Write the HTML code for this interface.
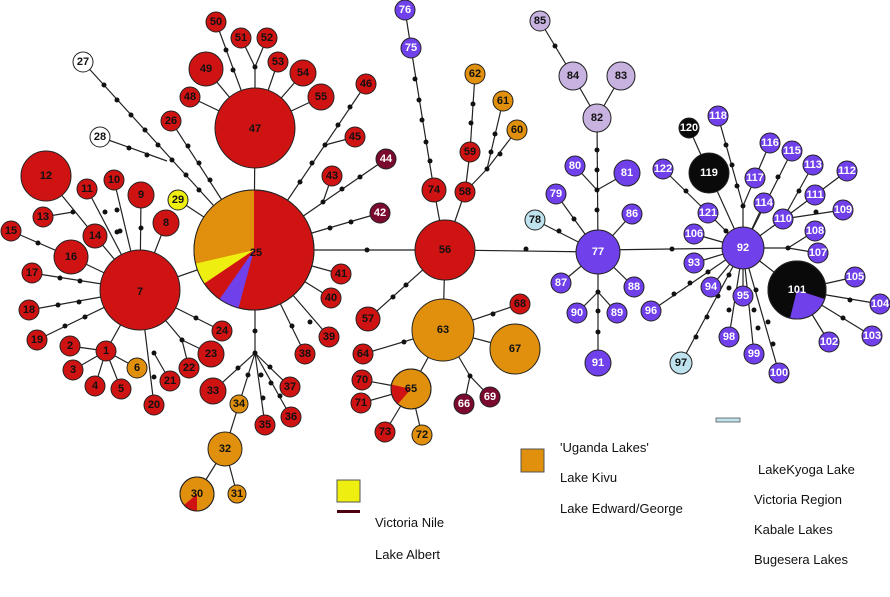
<!DOCTYPE html>
<html><head><meta charset="utf-8"><style>
html,body{margin:0;padding:0;background:#fff;}
svg{display:block}
.l line{stroke:#222;stroke-width:1.2}
.d circle{fill:#111}
.n circle{stroke:#222;stroke-width:1}
.n text{font-family:"Liberation Sans",sans-serif;font-weight:bold;font-size:11px;text-anchor:middle;dominant-baseline:central}
.R{fill:#cf1212}.O{fill:#e0900c}.P{fill:#7040ea}.L{fill:#c8b2e0}.K{fill:#0a0a0a}.W{fill:#fff}.Y{fill:#eeee10}.M{fill:#7a0a2e}.B{fill:#bfe3ee}
.wt{fill:#fff}.bt{fill:#111}
.lg{font-family:"Liberation Sans",sans-serif;font-size:13px;fill:#111}
</style></head><body>
<svg width="890" height="597" viewBox="0 0 890 597" xmlns="http://www.w3.org/2000/svg">
<g class="l">
<!-- 25 -->
<line x1="254" y1="250" x2="140" y2="290"/><line x1="254" y1="250" x2="178" y2="200"/><line x1="254" y1="250" x2="255" y2="128"/>
<line x1="254" y1="250" x2="171" y2="121"/><line x1="254" y1="250" x2="83" y2="62"/><line x1="167" y1="161" x2="100" y2="137"/>
<line x1="254" y1="250" x2="366" y2="84"/><line x1="325" y1="145" x2="355" y2="137"/>
<line x1="254" y1="250" x2="386" y2="159"/><line x1="323" y1="202" x2="332" y2="176"/>
<line x1="254" y1="250" x2="380" y2="213"/><line x1="254" y1="250" x2="341" y2="274"/><line x1="254" y1="250" x2="331" y2="298"/>
<line x1="254" y1="250" x2="329" y2="337"/><line x1="254" y1="250" x2="305" y2="354"/><line x1="254" y1="250" x2="445" y2="250"/>
<line x1="255" y1="250" x2="255" y2="353"/>
<line x1="255" y1="353" x2="213" y2="391"/><line x1="255" y1="353" x2="239" y2="404"/><line x1="255" y1="353" x2="265" y2="425"/>
<line x1="255" y1="353" x2="291" y2="417"/><line x1="255" y1="353" x2="290" y2="387"/>
<line x1="239" y1="404" x2="225" y2="449"/><line x1="225" y1="449" x2="197" y2="494"/><line x1="225" y1="449" x2="237" y2="494"/>
<!-- 7 -->
<line x1="140" y1="290" x2="95" y2="236"/><line x1="95" y1="236" x2="46" y2="176"/><line x1="73" y1="212" x2="43" y2="217"/>
<line x1="140" y1="290" x2="87" y2="189"/><line x1="140" y1="290" x2="114" y2="180"/><line x1="140" y1="290" x2="141" y2="195"/>
<line x1="140" y1="290" x2="166" y2="223"/><line x1="140" y1="290" x2="71" y2="257"/><line x1="71" y1="257" x2="11" y2="231"/>
<line x1="140" y1="290" x2="32" y2="273"/><line x1="140" y1="290" x2="29" y2="310"/><line x1="140" y1="290" x2="37" y2="340"/>
<line x1="140" y1="290" x2="106" y2="351"/><line x1="106" y1="351" x2="70" y2="346"/><line x1="106" y1="351" x2="73" y2="370"/>
<line x1="106" y1="351" x2="95" y2="386"/><line x1="106" y1="351" x2="121" y2="389"/><line x1="106" y1="351" x2="137" y2="368"/>
<line x1="140" y1="290" x2="154" y2="405"/><line x1="154" y1="353" x2="170" y2="381"/>
<line x1="140" y1="290" x2="182" y2="340"/><line x1="182" y1="340" x2="189" y2="368"/><line x1="182" y1="340" x2="211" y2="354"/>
<line x1="140" y1="290" x2="222" y2="331"/>
<!-- 47 -->
<line x1="255" y1="128" x2="190" y2="97"/><line x1="255" y1="128" x2="206" y2="69"/><line x1="255" y1="128" x2="216" y2="22"/>
<line x1="255" y1="128" x2="255" y2="67"/><line x1="255" y1="67" x2="241" y2="38"/><line x1="255" y1="67" x2="267" y2="38"/>
<line x1="255" y1="128" x2="278" y2="62"/><line x1="255" y1="128" x2="303" y2="73"/><line x1="255" y1="128" x2="321" y2="97"/>
<!-- 56 -->
<line x1="445" y1="250" x2="434" y2="190"/><line x1="434" y1="190" x2="411" y2="48"/><line x1="411" y1="48" x2="405" y2="10"/>
<line x1="445" y1="250" x2="465" y2="192"/><line x1="465" y1="192" x2="470" y2="152"/><line x1="470" y1="152" x2="475" y2="74"/>
<line x1="465" y1="192" x2="487" y2="169"/><line x1="487" y1="169" x2="503" y2="101"/><line x1="487" y1="169" x2="517" y2="130"/>
<line x1="445" y1="250" x2="368" y2="319"/><line x1="445" y1="250" x2="443" y2="330"/>
<line x1="443" y1="330" x2="363" y2="354"/><line x1="443" y1="330" x2="411" y2="389"/>
<line x1="411" y1="389" x2="362" y2="380"/><line x1="411" y1="389" x2="361" y2="403"/><line x1="411" y1="389" x2="385" y2="432"/><line x1="411" y1="389" x2="422" y2="435"/>
<line x1="443" y1="330" x2="470" y2="376"/><line x1="470" y1="376" x2="464" y2="404"/><line x1="470" y1="376" x2="490" y2="397"/>
<line x1="443" y1="330" x2="515" y2="349"/><line x1="443" y1="330" x2="520" y2="304"/>
<line x1="445" y1="250" x2="598" y2="252"/>
<!-- 77 -->
<line x1="598" y1="252" x2="597" y2="118"/><line x1="597" y1="190" x2="575" y2="166"/><line x1="597" y1="190" x2="627" y2="173"/>
<line x1="597" y1="118" x2="573" y2="76"/><line x1="597" y1="118" x2="621" y2="76"/><line x1="573" y1="76" x2="540" y2="21"/>
<line x1="598" y1="252" x2="535" y2="220"/><line x1="598" y1="252" x2="556" y2="194"/><line x1="598" y1="252" x2="632" y2="214"/>
<line x1="598" y1="252" x2="561" y2="283"/><line x1="598" y1="252" x2="634" y2="287"/><line x1="598" y1="252" x2="598" y2="363"/>
<line x1="598" y1="292" x2="577" y2="313"/><line x1="598" y1="292" x2="617" y2="313"/>
<line x1="598" y1="250" x2="743" y2="248"/>
<!-- 92 -->
<line x1="743" y1="248" x2="694" y2="263"/><line x1="743" y1="248" x2="711" y2="287"/><line x1="743" y1="248" x2="651" y2="311"/>
<line x1="743" y1="248" x2="681" y2="363"/><line x1="743" y1="248" x2="743" y2="296"/><line x1="743" y1="248" x2="729" y2="337"/>
<line x1="743" y1="248" x2="754" y2="354"/><line x1="743" y1="248" x2="779" y2="373"/><line x1="743" y1="248" x2="797" y2="290"/>
<line x1="797" y1="290" x2="829" y2="342"/><line x1="797" y1="290" x2="872" y2="336"/><line x1="797" y1="290" x2="880" y2="304"/><line x1="797" y1="290" x2="855" y2="277"/>
<line x1="743" y1="248" x2="694" y2="234"/><line x1="743" y1="248" x2="788" y2="248"/><line x1="788" y1="248" x2="818" y2="253"/><line x1="788" y1="248" x2="815" y2="231"/>
<line x1="743" y1="248" x2="783" y2="219"/><line x1="783" y1="219" x2="815" y2="195"/><line x1="815" y1="195" x2="847" y2="171"/>
<line x1="783" y1="219" x2="813" y2="165"/><line x1="783" y1="219" x2="843" y2="210"/>
<line x1="743" y1="248" x2="764" y2="203"/><line x1="743" y1="248" x2="792" y2="151"/>
<line x1="743" y1="248" x2="743" y2="206"/><line x1="743" y1="206" x2="755" y2="178"/><line x1="743" y1="206" x2="718" y2="116"/>
<line x1="755" y1="178" x2="770" y2="143"/>
<line x1="743" y1="248" x2="709" y2="173"/><line x1="709" y1="173" x2="689" y2="128"/>
<line x1="743" y1="248" x2="708" y2="213"/><line x1="708" y1="213" x2="663" y2="169"/>
</g>
<g class="d">
<circle cx="104" cy="85" r="2.5"/><circle cx="117" cy="100" r="2.5"/><circle cx="131" cy="115" r="2.5"/><circle cx="145" cy="130" r="2.5"/><circle cx="158" cy="145" r="2.5"/><circle cx="172" cy="160" r="2.5"/><circle cx="186" cy="175" r="2.5"/><circle cx="199" cy="190" r="2.5"/>
<circle cx="129" cy="148" r="2.5"/><circle cx="147" cy="155" r="2.5"/>
<circle cx="188" cy="146" r="2.5"/><circle cx="199" cy="163" r="2.5"/><circle cx="210" cy="180" r="2.5"/>
<circle cx="350" cy="107" r="2.5"/><circle cx="338" cy="125" r="2.5"/><circle cx="325" cy="145" r="2.5"/><circle cx="312" cy="163" r="2.5"/><circle cx="300" cy="182" r="2.5"/>
<circle cx="323" cy="202" r="2.5"/><circle cx="342" cy="189" r="2.5"/><circle cx="360" cy="177" r="2.5"/>
<circle cx="330" cy="228" r="2.5"/><circle cx="351" cy="222" r="2.5"/>
<circle cx="310" cy="322" r="2.5"/><circle cx="292" cy="326" r="2.5"/><circle cx="367" cy="250" r="2.5"/>
<circle cx="255" cy="331" r="2.5"/><circle cx="255" cy="353" r="2.5"/><circle cx="238" cy="368" r="2.5"/><circle cx="248" cy="375" r="2.5"/>
<circle cx="261" cy="375" r="2.5"/><circle cx="263" cy="398" r="2.5"/><circle cx="271" cy="383" r="2.5"/><circle cx="280" cy="396" r="2.5"/><circle cx="270" cy="367" r="2.5"/>
<circle cx="73" cy="212" r="2.5"/><circle cx="105" cy="212" r="2.5"/><circle cx="117" cy="232" r="2.5"/><circle cx="117" cy="210" r="2.5"/><circle cx="120" cy="231" r="2.5"/>
<circle cx="141" cy="228" r="2.5"/><circle cx="38" cy="243" r="2.5"/><circle cx="60" cy="278" r="2.5"/><circle cx="80" cy="281" r="2.5"/>
<circle cx="58" cy="305" r="2.5"/><circle cx="79" cy="302" r="2.5"/><circle cx="65" cy="326" r="2.5"/><circle cx="85" cy="317" r="2.5"/>
<circle cx="154" cy="353" r="2.5"/><circle cx="154" cy="377" r="2.5"/><circle cx="182" cy="340" r="2.5"/><circle cx="196" cy="318" r="2.5"/>
<circle cx="226" cy="50" r="2.5"/><circle cx="233" cy="70" r="2.5"/><circle cx="255" cy="67" r="2.5"/>
<circle cx="415" cy="79" r="2.5"/><circle cx="419" cy="100" r="2.5"/><circle cx="422" cy="120" r="2.5"/><circle cx="426" cy="142" r="2.5"/><circle cx="430" cy="161" r="2.5"/>
<circle cx="473" cy="104" r="2.5"/><circle cx="471" cy="123" r="2.5"/><circle cx="487" cy="169" r="2.5"/><circle cx="495" cy="134" r="2.5"/><circle cx="491" cy="152" r="2.5"/><circle cx="500" cy="154" r="2.5"/>
<circle cx="393" cy="297" r="2.5"/><circle cx="406" cy="285" r="2.5"/><circle cx="404" cy="342" r="2.5"/><circle cx="470" cy="376" r="2.5"/><circle cx="493" cy="314" r="2.5"/>
<circle cx="597" cy="150" r="2.5"/><circle cx="597" cy="170" r="2.5"/><circle cx="597" cy="190" r="2.5"/><circle cx="597" cy="210" r="2.5"/><circle cx="555" cy="46" r="2.5"/>
<circle cx="559" cy="231" r="2.5"/><circle cx="574" cy="219" r="2.5"/><circle cx="598" cy="292" r="2.5"/><circle cx="598" cy="311" r="2.5"/><circle cx="598" cy="332" r="2.5"/>
<circle cx="526" cy="249" r="2.5"/><circle cx="672" cy="249" r="2.5"/>
<circle cx="674" cy="294" r="2.5"/><circle cx="690" cy="283" r="2.5"/><circle cx="708" cy="272" r="2.5"/>
<circle cx="696" cy="337" r="2.5"/><circle cx="707" cy="317" r="2.5"/><circle cx="718" cy="296" r="2.5"/><circle cx="729" cy="275" r="2.5"/>
<circle cx="729" cy="288" r="2.5"/><circle cx="729" cy="310" r="2.5"/><circle cx="754" cy="310" r="2.5"/><circle cx="758" cy="328" r="2.5"/>
<circle cx="756" cy="290" r="2.5"/><circle cx="768" cy="322" r="2.5"/><circle cx="773" cy="344" r="2.5"/>
<circle cx="850" cy="300" r="2.5"/><circle cx="843" cy="318" r="2.5"/><circle cx="788" cy="248" r="2.5"/><circle cx="816" cy="212" r="2.5"/>
<circle cx="799" cy="191" r="2.5"/><circle cx="778" cy="177" r="2.5"/><circle cx="726" cy="145" r="2.5"/><circle cx="732" cy="165" r="2.5"/><circle cx="737" cy="186" r="2.5"/>
<circle cx="743" cy="206" r="2.5"/><circle cx="686" cy="191" r="2.5"/><circle cx="726" cy="231" r="2.5"/>
</g>
<g class="n">
<!-- 25 pie -->
<circle cx="254" cy="250" r="60" class="R"/>
<path d="M254,250 L254,190 A60,60 0 0 0 195.6,263.5 Z" class="O"/>
<path d="M254,250 L195.6,263.5 A60,60 0 0 0 204.3,283.5 Z" class="Y"/>
<path d="M254,250 L219.6,299.1 A60,60 0 0 0 238.5,308 Z" class="P"/>
<circle cx="254" cy="250" r="60" fill="none" stroke="#222"/>
<text x="256" y="253" class="bt">25</text>
<circle cx="140" cy="290" r="40" class="R"/><text x="140" y="292" class="bt">7</text>
<circle cx="255" cy="128" r="40" class="R"/><text x="255" y="129" class="bt">47</text>
<circle cx="46" cy="176" r="25" class="R"/><text x="46" y="176" class="bt">12</text>
<circle cx="43" cy="217" r="10" class="R"/><text x="43" y="217" class="bt">13</text>
<circle cx="11" cy="231" r="10" class="R"/><text x="11" y="231" class="bt">15</text>
<circle cx="71" cy="257" r="17" class="R"/><text x="71" y="257" class="bt">16</text>
<circle cx="87" cy="189" r="10" class="R"/><text x="87" y="189" class="bt">11</text>
<circle cx="114" cy="180" r="10" class="R"/><text x="114" y="180" class="bt">10</text>
<circle cx="141" cy="195" r="13" class="R"/><text x="141" y="195" class="bt">9</text>
<circle cx="166" cy="223" r="13" class="R"/><text x="166" y="223" class="bt">8</text>
<circle cx="95" cy="236" r="12" class="R"/><text x="95" y="236" class="bt">14</text>
<circle cx="178" cy="200" r="10" class="Y"/><text x="178" y="200" class="bt">29</text>
<circle cx="32" cy="273" r="10" class="R"/><text x="32" y="273" class="bt">17</text>
<circle cx="29" cy="310" r="10" class="R"/><text x="29" y="310" class="bt">18</text>
<circle cx="37" cy="340" r="10" class="R"/><text x="37" y="340" class="bt">19</text>
<circle cx="70" cy="346" r="10" class="R"/><text x="70" y="346" class="bt">2</text>
<circle cx="106" cy="351" r="10" class="R"/><text x="106" y="351" class="bt">1</text>
<circle cx="73" cy="370" r="10" class="R"/><text x="73" y="370" class="bt">3</text>
<circle cx="95" cy="386" r="10" class="R"/><text x="95" y="386" class="bt">4</text>
<circle cx="121" cy="389" r="10" class="R"/><text x="121" y="389" class="bt">5</text>
<circle cx="137" cy="368" r="10" class="O"/><text x="137" y="368" class="bt">6</text>
<circle cx="154" cy="405" r="10" class="R"/><text x="154" y="405" class="bt">20</text>
<circle cx="170" cy="381" r="10" class="R"/><text x="170" y="381" class="bt">21</text>
<circle cx="189" cy="368" r="10" class="R"/><text x="189" y="368" class="bt">22</text>
<circle cx="211" cy="354" r="13" class="R"/><text x="211" y="354" class="bt">23</text>
<circle cx="222" cy="331" r="10" class="R"/><text x="222" y="331" class="bt">24</text>
<circle cx="213" cy="391" r="13" class="R"/><text x="213" y="391" class="bt">33</text>
<circle cx="239" cy="404" r="9" class="O"/><text x="239" y="404" class="bt">34</text>
<circle cx="225" cy="449" r="17" class="O"/><text x="225" y="449" class="bt">32</text>
<circle cx="197" cy="494" r="17" class="O"/>
<path d="M197,494 L197,511 A17,17 0 0 1 184,505 Z" class="R"/>
<circle cx="197" cy="494" r="17" fill="none" stroke="#222"/><text x="197" y="494" class="bt">30</text>
<circle cx="237" cy="494" r="9" class="O"/><text x="237" y="494" class="bt">31</text>
<circle cx="265" cy="425" r="10" class="R"/><text x="265" y="425" class="bt">35</text>
<circle cx="291" cy="417" r="10" class="R"/><text x="291" y="417" class="bt">36</text>
<circle cx="290" cy="387" r="10" class="R"/><text x="290" y="387" class="bt">37</text>
<circle cx="305" cy="354" r="10" class="R"/><text x="305" y="354" class="bt">38</text>
<circle cx="329" cy="337" r="10" class="R"/><text x="329" y="337" class="bt">39</text>
<circle cx="331" cy="298" r="10" class="R"/><text x="331" y="298" class="bt">40</text>
<circle cx="341" cy="274" r="10" class="R"/><text x="341" y="274" class="bt">41</text>
<circle cx="380" cy="213" r="10" class="M"/><text x="380" y="213" class="wt">42</text>
<circle cx="332" cy="176" r="10" class="R"/><text x="332" y="176" class="bt">43</text>
<circle cx="386" cy="159" r="10" class="M"/><text x="386" y="159" class="wt">44</text>
<circle cx="355" cy="137" r="10" class="R"/><text x="355" y="137" class="bt">45</text>
<circle cx="366" cy="84" r="10" class="R"/><text x="366" y="84" class="bt">46</text>
<circle cx="190" cy="97" r="10" class="R"/><text x="190" y="97" class="bt">48</text>
<circle cx="206" cy="69" r="17" class="R"/><text x="206" y="69" class="bt">49</text>
<circle cx="216" cy="22" r="10" class="R"/><text x="216" y="22" class="bt">50</text>
<circle cx="241" cy="38" r="10" class="R"/><text x="241" y="38" class="bt">51</text>
<circle cx="267" cy="38" r="10" class="R"/><text x="267" y="38" class="bt">52</text>
<circle cx="278" cy="62" r="10" class="R"/><text x="278" y="62" class="bt">53</text>
<circle cx="303" cy="73" r="13" class="R"/><text x="303" y="73" class="bt">54</text>
<circle cx="321" cy="97" r="13" class="R"/><text x="321" y="97" class="bt">55</text>
<circle cx="171" cy="121" r="10" class="R"/><text x="171" y="121" class="bt">26</text>
<circle cx="83" cy="62" r="10" class="W"/><text x="83" y="62" class="bt">27</text>
<circle cx="100" cy="137" r="10" class="W"/><text x="100" y="137" class="bt">28</text>
<circle cx="445" cy="250" r="30" class="R"/><text x="445" y="250" class="bt">56</text>
<circle cx="434" cy="190" r="12" class="R"/><text x="434" y="190" class="bt">74</text>
<circle cx="411" cy="48" r="10" class="P"/><text x="411" y="48" class="wt">75</text>
<circle cx="405" cy="10" r="10" class="P"/><text x="405" y="10" class="wt">76</text>
<circle cx="465" cy="192" r="10" class="R"/><text x="465" y="192" class="bt">58</text>
<circle cx="470" cy="152" r="10" class="R"/><text x="470" y="152" class="bt">59</text>
<circle cx="517" cy="130" r="10" class="O"/><text x="517" y="130" class="bt">60</text>
<circle cx="503" cy="101" r="10" class="O"/><text x="503" y="101" class="bt">61</text>
<circle cx="475" cy="74" r="10" class="O"/><text x="475" y="74" class="bt">62</text>
<circle cx="368" cy="319" r="12" class="R"/><text x="368" y="319" class="bt">57</text>
<circle cx="443" cy="330" r="31" class="O"/><text x="443" y="330" class="bt">63</text>
<circle cx="363" cy="354" r="10" class="R"/><text x="363" y="354" class="bt">64</text>
<circle cx="362" cy="380" r="10" class="R"/><text x="362" y="380" class="bt">70</text>
<circle cx="361" cy="403" r="10" class="R"/><text x="361" y="403" class="bt">71</text>
<circle cx="411" cy="389" r="20" class="O"/>
<path d="M411,389 L391.5,384.5 A20,20 0 0 0 398,404 Z" class="R"/>
<circle cx="411" cy="389" r="20" fill="none" stroke="#222"/><text x="411" y="389" class="bt">65</text>
<circle cx="385" cy="432" r="10" class="R"/><text x="385" y="432" class="bt">73</text>
<circle cx="422" cy="435" r="10" class="O"/><text x="422" y="435" class="bt">72</text>
<circle cx="464" cy="404" r="10" class="M"/><text x="464" y="404" class="wt">66</text>
<circle cx="490" cy="397" r="10" class="M"/><text x="490" y="397" class="wt">69</text>
<circle cx="515" cy="349" r="25" class="O"/><text x="515" y="349" class="bt">67</text>
<circle cx="520" cy="304" r="10" class="R"/><text x="520" y="304" class="bt">68</text>
<circle cx="598" cy="252" r="22" class="P"/><text x="598" y="252" class="wt">77</text>
<circle cx="535" cy="220" r="10" class="B"/><text x="535" y="220" class="bt">78</text>
<circle cx="556" cy="194" r="10" class="P"/><text x="556" y="194" class="wt">79</text>
<circle cx="575" cy="166" r="10" class="P"/><text x="575" y="166" class="wt">80</text>
<circle cx="627" cy="173" r="13" class="P"/><text x="627" y="173" class="wt">81</text>
<circle cx="632" cy="214" r="10" class="P"/><text x="632" y="214" class="wt">86</text>
<circle cx="561" cy="283" r="10" class="P"/><text x="561" y="283" class="wt">87</text>
<circle cx="634" cy="287" r="10" class="P"/><text x="634" y="287" class="wt">88</text>
<circle cx="617" cy="313" r="10" class="P"/><text x="617" y="313" class="wt">89</text>
<circle cx="577" cy="313" r="10" class="P"/><text x="577" y="313" class="wt">90</text>
<circle cx="598" cy="363" r="13" class="P"/><text x="598" y="363" class="wt">91</text>
<circle cx="597" cy="118" r="14" class="L"/><text x="597" y="118" class="bt">82</text>
<circle cx="573" cy="76" r="14" class="L"/><text x="573" y="76" class="bt">84</text>
<circle cx="621" cy="76" r="14" class="L"/><text x="621" y="76" class="bt">83</text>
<circle cx="540" cy="21" r="10" class="L"/><text x="540" y="21" class="bt">85</text>
<circle cx="743" cy="248" r="21" class="P"/><text x="743" y="248" class="wt">92</text>
<circle cx="694" cy="263" r="10" class="P"/><text x="694" y="263" class="wt">93</text>
<circle cx="711" cy="287" r="10" class="P"/><text x="711" y="287" class="wt">94</text>
<circle cx="743" cy="296" r="10" class="P"/><text x="743" y="296" class="wt">95</text>
<circle cx="651" cy="311" r="10" class="P"/><text x="651" y="311" class="wt">96</text>
<circle cx="681" cy="363" r="11" class="B"/><text x="681" y="363" class="bt">97</text>
<circle cx="729" cy="337" r="10" class="P"/><text x="729" y="337" class="wt">98</text>
<circle cx="754" cy="354" r="10" class="P"/><text x="754" y="354" class="wt">99</text>
<circle cx="779" cy="373" r="10" class="P"/><text x="779" y="373" class="wt">100</text>
<circle cx="797" cy="290" r="29" class="K"/>
<path d="M797,290 L824.6,299 A29,29 0 0 1 790,318.1 Z" class="P"/>
<circle cx="797" cy="290" r="29" fill="none" stroke="#222"/><text x="797" y="290" class="wt">101</text>
<circle cx="829" cy="342" r="10" class="P"/><text x="829" y="342" class="wt">102</text>
<circle cx="872" cy="336" r="10" class="P"/><text x="872" y="336" class="wt">103</text>
<circle cx="880" cy="304" r="10" class="P"/><text x="880" y="304" class="wt">104</text>
<circle cx="855" cy="277" r="10" class="P"/><text x="855" y="277" class="wt">105</text>
<circle cx="694" cy="234" r="10" class="P"/><text x="694" y="234" class="wt">106</text>
<circle cx="818" cy="253" r="10" class="P"/><text x="818" y="253" class="wt">107</text>
<circle cx="815" cy="231" r="10" class="P"/><text x="815" y="231" class="wt">108</text>
<circle cx="843" cy="210" r="10" class="P"/><text x="843" y="210" class="wt">109</text>
<circle cx="783" cy="219" r="10" class="P"/><text x="783" y="219" class="wt">110</text>
<circle cx="815" cy="195" r="10" class="P"/><text x="815" y="195" class="wt">111</text>
<circle cx="847" cy="171" r="10" class="P"/><text x="847" y="171" class="wt">112</text>
<circle cx="813" cy="165" r="10" class="P"/><text x="813" y="165" class="wt">113</text>
<circle cx="764" cy="203" r="10" class="P"/><text x="764" y="203" class="wt">114</text>
<circle cx="792" cy="151" r="10" class="P"/><text x="792" y="151" class="wt">115</text>
<circle cx="770" cy="143" r="10" class="P"/><text x="770" y="143" class="wt">116</text>
<circle cx="755" cy="178" r="10" class="P"/><text x="755" y="178" class="wt">117</text>
<circle cx="718" cy="116" r="10" class="P"/><text x="718" y="116" class="wt">118</text>
<circle cx="709" cy="173" r="20" class="K"/><text x="709" y="173" class="wt">119</text>
<circle cx="689" cy="128" r="10" class="K"/><text x="689" y="128" class="wt">120</text>
<circle cx="708" cy="213" r="10" class="P"/><text x="708" y="213" class="wt">121</text>
<circle cx="663" cy="169" r="10" class="P"/><text x="663" y="169" class="wt">122</text>
</g>
<!-- legend -->
<rect x="337" y="480" width="23" height="22" fill="#eeee10" stroke="#555"/>
<rect x="337" y="510" width="23" height="3" fill="#4a0010"/>
<rect x="521" y="449" width="23" height="23" fill="#e0900c" stroke="#555"/>
<rect x="716" y="418" width="24" height="4" fill="#bfe3ee" stroke="#555" stroke-width="0.8"/>
<text x="375" y="527" class="lg">Victoria Nile</text>
<text x="375" y="559" class="lg">Lake Albert</text>
<text x="560" y="452" class="lg">'Uganda Lakes'</text>
<text x="560" y="482" class="lg">Lake Kivu</text>
<text x="560" y="513" class="lg">Lake Edward/George</text>
<text x="758" y="474" class="lg">LakeKyoga  Lake</text>
<text x="754" y="504" class="lg">Victoria Region</text>
<text x="754" y="534" class="lg">Kabale Lakes</text>
<text x="754" y="564" class="lg">Bugesera Lakes</text>
</svg>
</body></html>
